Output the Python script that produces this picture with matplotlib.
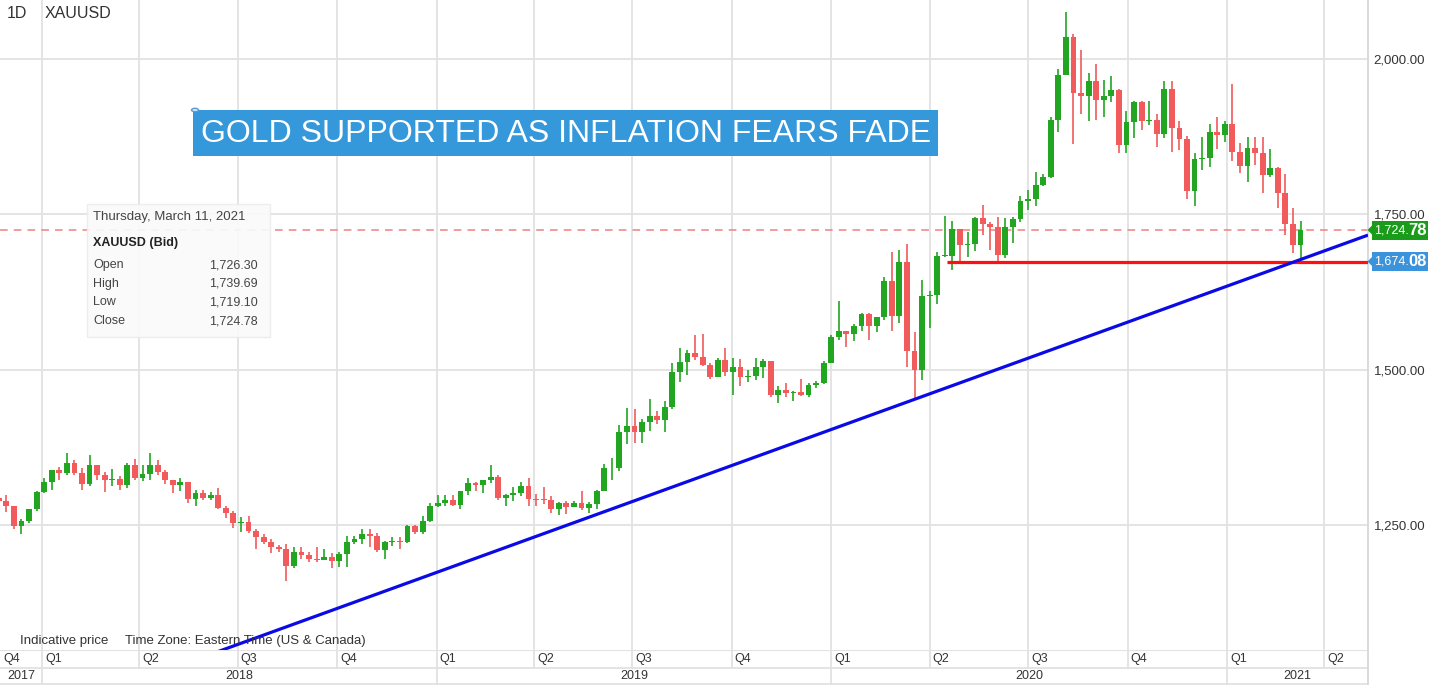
import numpy as np
import pandas as pd
import matplotlib
matplotlib.use("Agg")
import matplotlib.pyplot as plt
import matplotlib.dates as mdates
from matplotlib.patches import Rectangle, Polygon, Circle

plt.rcParams['font.family'] = ['Liberation Sans', 'DejaVu Sans']

# ---------------- data (weekly candles, XAUUSD) ----------------
first_week_end = '2017-11-24'
first_open = 1294.0

close_2017 = [1288, 1280, 1248, 1256, 1275, 1303]
high_2017 = [1298, 1299, 1280, 1260, 1276, 1304]
low_2017 = [1280, 1271, 1243, 1236, 1253, 1273]

close_2018 = [1320, 1338, 1333, 1349, 1333, 1316, 1347, 1330, 1323, 1324, 1314, 1347, 1325,
              1332, 1346, 1336, 1323, 1315, 1320, 1292, 1302, 1294, 1298, 1278, 1270, 1253,
              1255, 1241, 1231, 1223, 1214, 1212, 1184, 1206, 1201, 1196, 1194, 1199, 1192,
              1203, 1222, 1227, 1235, 1232, 1210, 1222, 1223, 1222, 1248, 1238, 1257, 1280]
high_2018 = [1326, 1338, 1344, 1366, 1355, 1341, 1362, 1342, 1336, 1340, 1329, 1349, 1356,
             1347, 1366, 1354, 1338, 1322, 1326, 1319, 1306, 1307, 1303, 1309, 1281, 1272,
             1263, 1265, 1244, 1235, 1228, 1218, 1220, 1214, 1214, 1207, 1214, 1211, 1205,
             1207, 1233, 1233, 1243, 1243, 1237, 1225, 1230, 1230, 1250, 1250, 1264, 1285]
low_2018 = [1301, 1307, 1323, 1330, 1330, 1307, 1313, 1322, 1303, 1313, 1307, 1309, 1322,
            1321, 1323, 1330, 1316, 1302, 1305, 1285, 1281, 1290, 1290, 1276, 1261, 1245,
            1238, 1237, 1211, 1219, 1205, 1207, 1160, 1180, 1195, 1191, 1191, 1193, 1180,
            1183, 1183, 1219, 1220, 1214, 1206, 1196, 1216, 1212, 1221, 1235, 1236, 1255]

close_2019 = [1285, 1290, 1282, 1304, 1318, 1314, 1322, 1328, 1293, 1298, 1302, 1312, 1292,
              1291, 1290, 1276, 1286, 1279, 1286, 1277, 1284, 1305, 1341, 1341, 1399, 1409,
              1399, 1415, 1426, 1419, 1440, 1497, 1513, 1527, 1520, 1507, 1488, 1516, 1497,
              1505, 1488, 1490, 1504, 1514, 1459, 1468, 1462, 1464, 1460, 1476, 1478, 1511]
high_2019 = [1298, 1298, 1298, 1305, 1326, 1319, 1323, 1346, 1330, 1300, 1311, 1320, 1325,
             1300, 1311, 1296, 1287, 1289, 1289, 1304, 1287, 1306, 1348, 1358, 1411, 1439,
             1437, 1420, 1453, 1433, 1449, 1510, 1535, 1531, 1555, 1557, 1510, 1519, 1535,
             1519, 1517, 1499, 1518, 1517, 1514, 1474, 1478, 1466, 1485, 1479, 1482, 1514]
low_2019 = [1279, 1280, 1280, 1276, 1298, 1304, 1302, 1318, 1291, 1281, 1289, 1296, 1281,
            1281, 1284, 1270, 1266, 1267, 1280, 1274, 1270, 1275, 1305, 1322, 1337, 1381,
            1382, 1382, 1402, 1412, 1400, 1437, 1480, 1492, 1516, 1506, 1485, 1490, 1490,
            1459, 1474, 1480, 1483, 1487, 1456, 1446, 1456, 1450, 1458, 1456, 1471, 1477]

close_2020 = [1552, 1562, 1557, 1571, 1589, 1570, 1584, 1643, 1586, 1674, 1530, 1499, 1618,
              1620, 1683, 1683, 1727, 1701, 1702, 1744, 1734, 1730, 1685, 1730, 1743, 1771,
              1775, 1798, 1810, 1902, 1975, 2035, 1945, 1940, 1964, 1934, 1940, 1950, 1862,
              1899, 1930, 1900, 1902, 1879, 1951, 1889, 1871, 1788, 1839, 1840, 1882, 1877]
high_2020 = [1555, 1611, 1563, 1573, 1591, 1591, 1585, 1649, 1689, 1692, 1703, 1560, 1645,
             1627, 1690, 1747, 1739, 1718, 1722, 1746, 1765, 1738, 1745, 1744, 1745, 1779,
             1789, 1818, 1815, 1907, 1984, 2075, 2040, 2015, 1977, 1992, 1966, 1973, 1952,
             1917, 1932, 1933, 1932, 1912, 1965, 1965, 1900, 1876, 1848, 1875, 1896, 1906]
low_2020 = [1513, 1548, 1536, 1546, 1563, 1548, 1561, 1580, 1563, 1575, 1504, 1451, 1483,
            1567, 1606, 1681, 1660, 1672, 1681, 1691, 1717, 1693, 1670, 1680, 1704, 1737,
            1757, 1763, 1795, 1809, 1882, 1975, 1863, 1911, 1901, 1902, 1906, 1930, 1849,
            1848, 1873, 1886, 1894, 1859, 1873, 1850, 1853, 1774, 1764, 1822, 1826, 1855]

close_2021 = [1895, 1850, 1828, 1856, 1848, 1814, 1824, 1784, 1734, 1700, 1724.78]
high_2021 = [1900, 1959, 1865, 1875, 1875, 1875, 1855, 1826, 1815, 1760, 1739.69]
low_2021 = [1867, 1836, 1817, 1802, 1830, 1784, 1810, 1760, 1717, 1687, 1676]

last_price = 1724.78
support_price = 1674.08
support_start = '2020-04-17'
trend_anchor_dates = ['2020-03-16', '2021-03-08']
trend_anchor_prices = [1451.0, 1676.0]

quarter_starts = ['2017-10-01', '2018-01-01', '2018-04-01', '2018-07-01', '2018-10-01',
                  '2019-01-01', '2019-04-01', '2019-07-01', '2019-10-01', '2020-01-01',
                  '2020-04-01', '2020-07-01', '2020-10-01', '2021-01-01', '2021-04-01']
quarter_labels = ['Q4', 'Q1', 'Q2', 'Q3', 'Q4', 'Q1', 'Q2', 'Q3', 'Q4', 'Q1', 'Q2', 'Q3',
                  'Q4', 'Q1', 'Q2']
year_starts = ['2017-01-01', '2018-01-01', '2019-01-01', '2020-01-01', '2021-01-01']
year_labels = ['2017', '2018', '2019', '2020', '2021']
price_ticks = [1250, 1500, 1750, 2000]

tooltip_date = 'Thursday, March 11, 2021'
tooltip_title = 'XAUUSD (Bid)'
tooltip_rows = ['Open', 'High', 'Low', 'Close']
tooltip_vals = [1726.30, 1739.69, 1719.10, 1724.78]

headline = 'GOLD SUPPORTED AS INFLATION FEARS FADE'

# ---------------- figure / layout ----------------
W, H, DPI = 1430, 685, 100
fig = plt.figure(figsize=(W / DPI, H / DPI), dpi=DPI)
fig.patch.set_facecolor('white')

PLOT_R = 1368
PLOT_B = 650
ax = fig.add_axes([0, (H - PLOT_B) / H, PLOT_R / W, PLOT_B / H])
axb = fig.add_axes([0, 0, PLOT_R / W, (H - PLOT_B) / H], sharex=ax)


def px(x, y):
    return (x / W, 1 - y / H)


GRID = '#e2e2e2'
TXT = '#333333'
GREEN = '#22a622'
RED = '#f15b5b'

d0 = mdates.date2num(pd.Timestamp('2018-01-01'))
d1 = mdates.date2num(pd.Timestamp('2021-01-01'))
ppd = (1227 - 42) / (d1 - d0)
xl0 = d0 - 42 / ppd
xl1 = d1 + (PLOT_R - 1227) / ppd
ax.set_xlim(xl0, xl1)
upp = 250 / ((525 - 59) / 3)
ax.set_ylim(2000 - (PLOT_B - 59) * upp, 2000 + 59 * upp)

close = np.array(close_2017 + close_2018 + close_2019 + close_2020 + close_2021, float)
high = np.array(high_2017 + high_2018 + high_2019 + high_2020 + high_2021, float)
low = np.array(low_2017 + low_2018 + low_2019 + low_2020 + low_2021, float)
opens = np.r_[first_open, close[:-1]]
week_end = pd.date_range(first_week_end, periods=len(close), freq='W-FRI')
xc = mdates.date2num((week_end - pd.Timedelta(days=2)).to_pydatetime())
up = close >= opens
cols = np.where(up, GREEN, RED)
hi = np.maximum(high, np.maximum(opens, close))
lo = np.minimum(low, np.minimum(opens, close))

# grid
for t in price_ticks:
    ax.axhline(t, color=GRID, lw=1.3, zorder=0)
for q in quarter_starts[1:]:
    ax.axvline(mdates.date2num(pd.Timestamp(q)), color=GRID, lw=1.3, zorder=0)

# candles
ax.vlines(xc, lo, hi, colors=cols, lw=1.2, zorder=3)
body = np.maximum(np.abs(close - opens), 1.5)
ax.bar(xc, body, bottom=np.minimum(opens, close), width=5.4, color=cols,
       linewidth=0, zorder=3)

# last price dashed line
ax.axhline(last_price, color='#f37f7f', lw=1.1, dashes=(5, 4), zorder=2)

# support line
ax.plot([mdates.date2num(pd.Timestamp(support_start)), xl1], [support_price] * 2,
        color='#ff1010', lw=2.3, zorder=5, solid_capstyle='butt')

# trend line
ta = mdates.date2num(pd.to_datetime(trend_anchor_dates).to_pydatetime())
slope = (trend_anchor_prices[1] - trend_anchor_prices[0]) / (ta[1] - ta[0])
tx = np.array([xl0, xl1])
ax.plot(tx, trend_anchor_prices[0] + slope * (tx - ta[0]), color='#0a0ae6', lw=2.3,
        zorder=6, solid_capstyle='butt')

# axes styling
ax.set_yticks(price_ticks)
ax.set_yticklabels([f'{t:,.2f}' for t in price_ticks])
ax.yaxis.tick_right()
ax.tick_params(axis='y', length=0, pad=4, labelsize=9.5, labelcolor=TXT)
ax.tick_params(axis='x', bottom=False, labelbottom=False)
for s in ['top', 'left', 'bottom']:
    ax.spines[s].set_visible(False)
ax.spines['right'].set_color('#d8d8d8')
ax.spines['right'].set_linewidth(1.3)
ax.set_facecolor('white')

# bottom date axis
axb.set_ylim(0, 1)
axb.set_facecolor('white')
for s in ['top', 'left', 'bottom']:
    axb.spines[s].set_visible(False)
axb.spines['right'].set_color('#d8d8d8')
axb.spines['right'].set_linewidth(1.3)
axb.tick_params(left=False, labelleft=False, bottom=False, labelbottom=False)
row_mid = (H - 668) / (H - PLOT_B)
axb.axhline(1.0, color=GRID, lw=1.5)
axb.axhline(row_mid, color=GRID, lw=1.3)
axb.axhline(1 / (H - PLOT_B), color=GRID, lw=1.3)
for q, lab in zip(quarter_starts, quarter_labels):
    qx = mdates.date2num(pd.Timestamp(q))
    if qx > xl0:
        axb.axvline(qx, ymin=row_mid, ymax=1, color=GRID, lw=1.3)
    axb.annotate(lab, (max(qx, xl0), (1 + row_mid) / 2), xytext=(3, 0),
                 textcoords='offset pixels', ha='left', va='center', fontsize=9,
                 color=TXT)
ys = [mdates.date2num(pd.Timestamp(y)) for y in year_starts] + [xl1]
for i, lab in enumerate(year_labels):
    a, b = max(ys[i], xl0), min(ys[i + 1], xl1)
    if ys[i] > xl0:
        axb.axvline(ys[i], ymin=0, ymax=row_mid, color=GRID, lw=1.3)
    axb.text((a + b) / 2, row_mid / 2 + 0.02, lab, ha='center', va='center',
             fontsize=9, color=TXT)
axb.set_xlim(xl0, xl1)

# top-left labels
fig.text(*px(7, 14), '1D', fontsize=11.5, color=TXT, va='center', ha='left')
fig.text(*px(45, 14), 'XAUUSD', fontsize=11.5, color=TXT, va='center', ha='left')

# indicative price footer
fig.text(*px(20, 641), 'Indicative price', fontsize=9.5, color=TXT, va='center',
         ha='left', zorder=1)
fig.text(*px(125, 641), 'Time Zone: Eastern Time (US & Canada)', fontsize=9.5,
         color=TXT, va='center', ha='left', zorder=1)

# headline box
hb = Rectangle(px(193, 156), (938 - 193) / W, 46 / H, transform=fig.transFigure,
               facecolor='#3498db', edgecolor='none', zorder=7)
fig.patches.append(hb)
ht = fig.text(*px(566, 134), headline, color='white', fontsize=22, ha='center',
              va='center', zorder=8)
fig.canvas.draw()
bb = ht.get_window_extent()
ht.set_fontsize(22 * 730 / bb.width)
fig.patches.append(Circle(px(195, 110), 3.5 / W, transform=fig.transFigure,
                          facecolor='#d6e8f7', edgecolor='#5b9bd5', lw=1, zorder=9))

# tooltip
tb = Rectangle(px(87, 337), (270 - 87) / W, (337 - 204) / H, transform=fig.transFigure,
               facecolor='#fafafa', edgecolor='#ececec', lw=1, alpha=0.92, zorder=7)
fig.patches.append(tb)
fig.text(*px(93, 217), tooltip_date, fontsize=9.5, color='#444444', va='center',
         ha='left', zorder=8)
fig.text(*px(93, 243), tooltip_title, fontsize=9, color='#222222', va='center',
         ha='left', fontweight='bold', zorder=8)
for i, (r, v) in enumerate(zip(tooltip_rows, tooltip_vals)):
    yy = 265 + i * 18.7
    fig.text(*px(93, yy), r, fontsize=9, color='#444444', va='center', ha='left', zorder=8)
    fig.text(*px(258, yy), f'{v:,.2f}', fontsize=9, color='#444444', va='center',
             ha='right', zorder=8)


# price labels on the right axis
def price_figy(p):
    disp = ax.transData.transform((xl0, p))
    return fig.transFigure.inverted().transform(disp)[1]


def price_label(p, color):
    yc = price_figy(p)
    h = 19 / H
    x0, x1 = 1372 / W, 1428 / W
    fig.patches.append(Rectangle((x0, yc - h / 2), x1 - x0, h, transform=fig.transFigure,
                                 facecolor=color, edgecolor='none', zorder=7))
    fig.patches.append(Polygon([(1367.5 / W, yc), (x0 + 0.5 / W, yc + 5 / H),
                                (x0 + 0.5 / W, yc - 5 / H)], closed=True,
                               transform=fig.transFigure, facecolor=color,
                               edgecolor='none', zorder=7))
    s = f'{p:,.2f}'
    fig.text(1409 / W, yc, s[:-2], fontsize=9, color='white', ha='right', va='center',
             zorder=8)
    fig.text(1427 / W, yc, s[-2:], fontsize=12, color='white',
             ha='right', va='center', fontweight='bold', zorder=8)


price_label(last_price, '#1a9c1a')
price_label(support_price, '#3a93db')

fig.savefig('out.png', dpi=DPI)
